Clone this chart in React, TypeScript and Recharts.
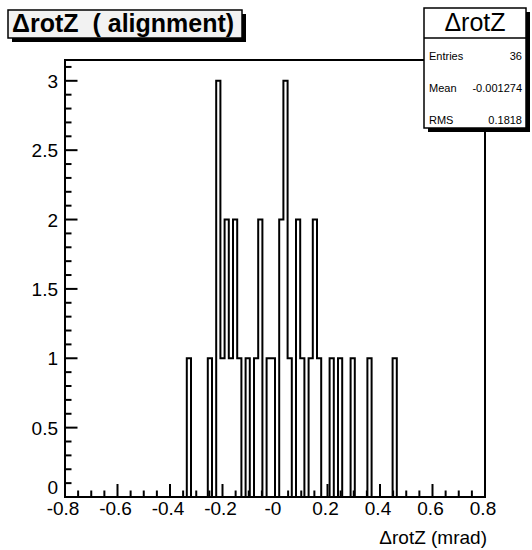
import React from 'react';
import { ComposedChart, Line, XAxis, YAxis, ReferenceArea } from 'recharts';

// Histogram binning: 100 bins over [-0.8, 0.8] mrad
const BIN_LOW = -0.8;
const BIN_HIGH = 0.8;
const BIN_WIDTH = 0.016;
const N_BINS = 100;

// Non-empty bins (bin index from the low edge) and their entries
const filledBins = [29, 34, 36, 37, 38, 39, 40, 41, 43, 45, 46, 48, 49, 51, 52, 53, 55, 56, 58, 59, 60, 63, 65, 68, 72, 78];
const binCounts = [1, 1, 3, 1, 2, 1, 2, 1, 1, 1, 2, 1, 1, 2, 3, 1, 2, 1, 1, 2, 1, 1, 1, 1, 1, 1];

const Y_MAX = 3.15;

// Axis ticks
const xMajorTicks = [-0.8, -0.6, -0.4, -0.2, 0, 0.2, 0.4, 0.6, 0.8];
const xTickLabels = ['-0.8', '-0.6', '-0.4', '-0.2', '-0', '0.2', '0.4', '0.6', '0.8'];
const X_MINOR_STEP = 0.05;
const yMajorTicks = [0, 0.5, 1, 1.5, 2, 2.5, 3];
const yTickLabels = ['0', '0.5', '1', '1.5', '2', '2.5', '3'];
const Y_MINOR_STEP = 0.1;

// Text
const histTitle = 'ΔrotZ  ( alignment)';
const statsTitle = 'ΔrotZ';
const statNames = ['Entries', 'Mean', 'RMS'];
const statValues = ['36', '-0.001274', '0.1818'];
const xAxisTitle = 'ΔrotZ (mrad)';

const FONT = '"Liberation Sans", Arial, Helvetica, sans-serif';

// Bin-edge table for a step outline
const edges = Array.from({ length: N_BINS + 1 }, (_, i) => {
  const pos = filledBins.indexOf(i);
  return {
    x: +(BIN_LOW + i * BIN_WIDTH).toFixed(4),
    y: i < N_BINS && pos >= 0 ? binCounts[pos] : 0,
  };
});

const xTicks: number[] = [];
for (let v = BIN_LOW; v <= BIN_HIGH + 1e-9; v += X_MINOR_STEP) xTicks.push(+v.toFixed(3));
const yTicks: number[] = [];
for (let v = 0; v <= Y_MAX + 1e-9; v += Y_MINOR_STEP) yTicks.push(+v.toFixed(3));

const findMajor = (list: number[], v: number) => list.findIndex((t) => Math.abs(t - v) < 1e-6);

const XTick = (props: any) => {
  const { x, y, payload } = props;
  const idx = findMajor(xMajorTicks, payload.value);
  const len = idx >= 0 ? 13 : 6.5;
  return (
    <g>
      <line x1={x} x2={x} y1={y} y2={y - len} stroke="#000" strokeWidth={2} />
      {idx >= 0 && (
        <text x={x - 2} y={y + 18} textAnchor="middle" fontSize={19} fontFamily={FONT} fill="#000">
          {xTickLabels[idx]}
        </text>
      )}
    </g>
  );
};

const YTick = (props: any) => {
  const { x, y, payload } = props;
  const idx = findMajor(yMajorTicks, payload.value);
  const len = idx >= 0 ? 12.5 : 6.5;
  const lift = payload.value === 0 ? -10 : 0;
  return (
    <g>
      <line x1={x} x2={x + len} y1={y} y2={y} stroke="#000" strokeWidth={2} />
      {idx >= 0 && (
        <text x={x - 7} y={y + 7 + lift} textAnchor="end" fontSize={19} fontFamily={FONT} fill="#000">
          {yTickLabels[idx]}
        </text>
      )}
    </g>
  );
};

export default function App() {
  return (
    <div style={{ position: 'absolute', left: 0, top: 0, width: 532, height: 550, background: '#fff' }}>
      <ComposedChart width={532} height={550} data={edges} margin={{ top: 60, right: 47, bottom: 0, left: 0 }}>
        <XAxis
          type="number"
          dataKey="x"
          domain={[BIN_LOW, BIN_HIGH]}
          allowDataOverflow
          ticks={xTicks}
          interval={0}
          height={53}
          tickSize={0}
          tickMargin={0}
          tickLine={false}
          tick={<XTick />}
          axisLine={{ stroke: '#000', strokeWidth: 2 }}
        />
        <YAxis
          type="number"
          domain={[0, Y_MAX]}
          allowDataOverflow
          ticks={yTicks}
          interval={0}
          width={65}
          tickSize={0}
          tickMargin={0}
          tickLine={false}
          tick={<YTick />}
          axisLine={{ stroke: '#000', strokeWidth: 2 }}
        />
        <ReferenceArea
          x1={BIN_LOW}
          x2={BIN_HIGH}
          y1={0}
          y2={Y_MAX}
          fill="none"
          fillOpacity={0}
          stroke="#000"
          strokeWidth={2}
        />
        <Line
          type="stepAfter"
          dataKey="y"
          stroke="#000"
          strokeWidth={2}
          dot={false}
          activeDot={false}
          isAnimationActive={false}
        />
      </ComposedChart>

      <svg
        width={532}
        height={550}
        style={{ position: 'absolute', left: 0, top: 0, pointerEvents: 'none' }}
      >
        {/* title pave with shadow */}
        <rect x={12} y={14} width={234} height={28} fill="#000" />
        <rect x={8} y={10} width={234} height={28} fill="#f2f2f2" stroke="#000" strokeWidth={1.5} />
        <text
          x={12}
          y={32}
          fontSize={25}
          fontWeight="bold"
          fontFamily={FONT}
          fill="#000"
          style={{ whiteSpace: 'pre' }}
        >
          {histTitle}
        </text>

        {/* statistics box with shadow */}
        <rect x={428} y={12} width={102} height={120} fill="#000" />
        <rect x={424} y={8} width={102} height={120} fill="#fff" stroke="#000" strokeWidth={1.5} />
        <line x1={424} x2={526} y1={38} y2={38} stroke="#000" strokeWidth={1.5} />
        <text x={475} y={31} textAnchor="middle" fontSize={25} fontFamily={FONT} fill="#000">
          {statsTitle}
        </text>
        {statNames.map((name, i) => (
          <g key={name}>
            <text x={429} y={60 + i * 32} fontSize={11} fontFamily={FONT} fill="#000">
              {name}
            </text>
            <text x={522} y={60 + i * 32} textAnchor="end" fontSize={11} fontFamily={FONT} fill="#000">
              {statValues[i]}
            </text>
          </g>
        ))}

        {/* x-axis title */}
        <text x={487} y={544} textAnchor="end" fontSize={19} fontFamily={FONT} fill="#000">
          {xAxisTitle}
        </text>
      </svg>
    </div>
  );
}
